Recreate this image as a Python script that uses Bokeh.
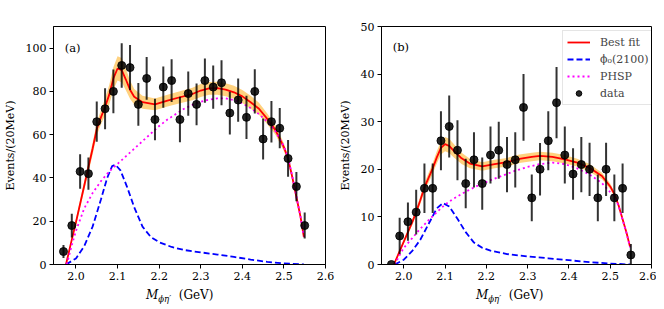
from bokeh.plotting import figure
from bokeh.layouts import row, column
from bokeh.models import (ColumnDataSource, FixedTicker, PrintfTickFormatter,
                          Label, Legend, LegendItem, Div)
from bokeh.embed import file_html
from bokeh.resources import INLINE

# ---------------- data ----------------
bin_centers = [1.97, 1.99, 2.01, 2.03, 2.05, 2.07, 2.09, 2.11, 2.13, 2.15,
               2.17, 2.19, 2.21, 2.23, 2.25, 2.27, 2.29, 2.31, 2.33, 2.35,
               2.37, 2.39, 2.41, 2.43, 2.45, 2.47, 2.49, 2.51, 2.53, 2.55]

a_counts = [6, 18, 43, 42, 66, 72, 80, 92, 91, 74,
            86, 67, 82, 85, 67, 79, 74, 85, 82, 84,
            70, 76, 68, 80, 58, 66, 63, 49, 36, 18]
a_errors = [3.0, 5.5, 8.0, 7.5, 9.3, 9.5, 10.1, 10.3, 10.4, 9.9,
            9.9, 9.6, 9.5, 9.9, 10.5, 10.2, 9.6, 10.2, 10.0, 10.4,
            9.9, 10.0, 10.0, 10.2, 9.5, 9.6, 9.3, 8.5, 6.8, 6.0]

b_counts = [0, 6, 9, 11, 16, 16, 26, 29, 24, 17,
            22, 17, 23, 24, 21, 22, 33, 14, 20, 26,
            34, 23, 19, 21, 20, 14, 20, 14, 16, 2]
b_errors = [0.0, 3.8, 4.0, 4.7, 5.2, 5.2, 6.2, 6.5, 6.3, 5.2,
            5.8, 5.5, 6.0, 6.0, 5.8, 5.8, 7.0, 4.9, 5.5, 6.2,
            7.5, 6.0, 5.4, 5.8, 5.6, 4.9, 5.6, 4.9, 5.2, 2.3]

# (a) curves
a_fit_x = [1.976, 1.99, 2.00, 2.02, 2.04, 2.05, 2.06, 2.07, 2.08, 2.09,
           2.10, 2.11, 2.12, 2.13, 2.14, 2.16, 2.19, 2.22, 2.25, 2.28,
           2.30, 2.32, 2.34, 2.36, 2.38, 2.40, 2.42, 2.44, 2.46, 2.48,
           2.50, 2.51, 2.52, 2.53, 2.54, 2.548]
a_fit_y = [0.0, 11.5, 19.5, 36.5, 53.5, 62.5, 68.0, 72.8, 78.5, 86.0,
           90.6, 89.8, 85.5, 80.8, 77.5, 75.0, 74.0, 75.7, 77.3, 78.8,
           80.4, 81.4, 81.5, 80.8, 79.6, 77.7, 75.0, 72.0, 67.3, 62.0,
           54.2, 49.0, 40.5, 31.2, 22.0, 12.7]
a_band_half = [0.3, 1.0, 1.5, 2.2, 2.8, 3.0, 3.3, 3.8, 4.5, 5.2,
               5.6, 5.6, 5.0, 4.2, 3.6, 3.0, 2.7, 2.7, 2.8, 2.9,
               3.0, 3.0, 3.0, 3.0, 3.0, 3.0, 3.0, 2.8, 2.5, 2.2,
               1.8, 1.5, 1.2, 1.0, 0.8, 0.5]

a_sig_x = [1.976, 2.00, 2.02, 2.04, 2.06, 2.075, 2.087, 2.095, 2.107, 2.123,
           2.14, 2.16, 2.18, 2.20, 2.23, 2.26, 2.30, 2.34, 2.38, 2.42,
           2.46, 2.50, 2.548]
a_sig_y = [0.0, 2.8, 8.5, 17.5, 30.0, 40.0, 45.5, 46.1, 43.5, 35.8,
           26.5, 17.5, 12.7, 10.3, 8.1, 6.7, 5.6, 4.6, 3.5, 2.3,
           1.2, 0.5, 0.0]

a_phsp_x = [1.978, 1.99, 2.00, 2.02, 2.04, 2.06, 2.08, 2.10, 2.12, 2.14,
            2.16, 2.18, 2.20, 2.22, 2.24, 2.26, 2.28, 2.30, 2.32, 2.34,
            2.36, 2.38, 2.40, 2.42, 2.44, 2.46, 2.48, 2.50, 2.51, 2.52,
            2.53, 2.54, 2.548]
a_phsp_y = [0.0, 9.0, 15.5, 26.0, 33.0, 38.5, 43.0, 46.5, 50.0, 53.5,
            57.0, 60.5, 64.0, 67.0, 69.5, 72.0, 73.8, 75.2, 76.2, 76.8,
            76.8, 76.0, 74.5, 72.3, 69.5, 66.0, 61.5, 54.5, 49.5, 41.0,
            31.5, 22.0, 13.0]

# (b) curves
b_fit_x = [1.976, 1.99, 2.00, 2.01, 2.02, 2.03, 2.04, 2.05, 2.06, 2.07,
           2.08, 2.09, 2.10, 2.11, 2.12, 2.14, 2.16, 2.19, 2.22, 2.25,
           2.28, 2.31, 2.33, 2.36, 2.39, 2.42, 2.45, 2.48, 2.50, 2.51,
           2.52, 2.53, 2.54, 2.548]
b_fit_y = [0.0, 2.8, 4.8, 6.8, 8.8, 11.0, 13.5, 16.2, 18.2, 20.2,
           22.5, 24.5, 25.3, 24.9, 24.0, 22.3, 21.2, 20.6, 21.1, 21.5,
           22.2, 22.6, 22.8, 22.6, 22.1, 21.4, 20.3, 18.6, 16.4, 14.8,
           12.5, 9.5, 6.5, 3.7]
b_band_half = [0.1, 0.3, 0.4, 0.5, 0.6, 0.7, 0.8, 0.9, 1.0, 1.1,
               1.3, 1.4, 1.5, 1.5, 1.4, 1.2, 1.0, 0.9, 0.9, 0.9,
               0.9, 0.9, 0.9, 0.9, 0.9, 0.8, 0.8, 0.7, 0.6, 0.5,
               0.4, 0.3, 0.2, 0.1]

b_sig_x = [1.978, 2.00, 2.02, 2.04, 2.06, 2.08, 2.095, 2.11, 2.13, 2.15,
           2.17, 2.19, 2.21, 2.25, 2.30, 2.35, 2.40, 2.45, 2.50, 2.548]
b_sig_y = [0.0, 1.0, 2.8, 5.2, 8.5, 11.8, 12.9, 12.2, 9.6, 6.8,
           4.6, 3.5, 2.9, 2.2, 1.7, 1.3, 0.9, 0.5, 0.2, 0.0]

b_phsp_x = [1.978, 1.99, 2.00, 2.02, 2.04, 2.06, 2.08, 2.10, 2.12, 2.15,
            2.18, 2.21, 2.24, 2.27, 2.30, 2.33, 2.36, 2.39, 2.42, 2.45,
            2.48, 2.50, 2.51, 2.52, 2.53, 2.54, 2.548]
b_phsp_y = [0.0, 2.0, 3.5, 5.5, 7.5, 9.3, 11.0, 12.6, 13.8, 15.3,
            16.6, 17.7, 18.7, 19.7, 20.5, 21.1, 21.4, 21.1, 20.2, 18.9,
            17.1, 15.2, 14.3, 12.4, 9.4, 6.4, 3.6]

x_ticks = [2.0, 2.1, 2.2, 2.3, 2.4, 2.5, 2.6]
a_y_ticks = [0, 20, 40, 60, 80, 100]
b_y_ticks = [0, 10, 20, 30, 40, 50]
x_limits = (1.946, 2.6)
a_y_limits = (0, 110)
b_y_limits = (0, 50)

legend_labels = ["Best fit", "\u03d5\u2080(2100)", "PHSP", "data"]
y_title = "Events/(20MeV)"

SERIF = "DejaVu Serif"
NAN = float("nan")


def make_panel(tag, counts, errors, fit_x, fit_y, band_half, sig_x, sig_y,
               ph_x, ph_y, y_limits, y_ticks, width, bl, br, tag_y):
    p = figure(width=width, height=286, x_range=x_limits, y_range=y_limits,
               output_backend="svg", toolbar_location=None,
               min_border_left=bl, min_border_right=br,
               min_border_top=26, min_border_bottom=22)
    p.background_fill_color = "white"
    p.border_fill_color = "white"
    p.xgrid.grid_line_color = None
    p.ygrid.grid_line_color = None
    p.outline_line_color = "black"
    p.outline_line_width = 1
    p.outline_line_alpha = 1

    p.xaxis.ticker = FixedTicker(ticks=x_ticks)
    p.xaxis.formatter = PrintfTickFormatter(format="%.1f")
    p.yaxis.ticker = FixedTicker(ticks=y_ticks)
    p.yaxis.formatter = PrintfTickFormatter(format="%d")
    for ax in (p.xaxis, p.yaxis):
        ax.major_tick_out = 4
        ax.major_tick_in = 0
        ax.minor_tick_line_color = None
        ax.axis_line_color = "black"
        ax.major_tick_line_color = "black"
        ax.major_label_text_font = SERIF
        ax.major_label_text_font_size = "11px"
        ax.major_label_text_color = "black"
        ax.major_label_standoff = 3
    p.yaxis.axis_label = y_title
    p.yaxis.axis_label_text_font = SERIF
    p.yaxis.axis_label_text_font_size = "11px"
    p.yaxis.axis_label_text_font_style = "normal"
    p.yaxis.axis_label_text_color = "black"
    p.yaxis.axis_label_standoff = 6

    lower = [f - h for f, h in zip(fit_y, band_half)]
    upper = [f + h for f, h in zip(fit_y, band_half)]
    p.varea(x=fit_x, y1=lower, y2=upper, fill_color="orange", fill_alpha=0.5)
    r_fit = p.line(fit_x, fit_y, line_color="red", line_width=1.8)
    r_sig = p.line(sig_x, sig_y, line_color="blue", line_width=1.8,
                   line_dash="6 3")
    r_ph = p.line(ph_x, ph_y, line_color="magenta", line_width=1.8,
                  line_dash="2 3")

    src = ColumnDataSource(dict(
        x=bin_centers, y=counts,
        lo=[c - e for c, e in zip(counts, errors)],
        hi=[c + e for c, e in zip(counts, errors)]))
    p.segment(x0="x", y0="lo", x1="x", y1="hi", source=src,
              line_color="black", line_alpha=0.8, line_width=2)
    p.scatter("x", "y", source=src, size=8, fill_color="black",
              line_color="black", fill_alpha=0.85, line_alpha=0.85)

    p.add_layout(Label(x=1.973, y=tag_y, text=tag, text_font=SERIF,
                       text_font_size="11.5px", text_baseline="middle",
                       text_color="black"))
    return p, r_fit, r_sig, r_ph


p1, _, _, _ = make_panel("(a)", a_counts, a_errors, a_fit_x, a_fit_y,
                         a_band_half, a_sig_x, a_sig_y, a_phsp_x, a_phsp_y,
                         a_y_limits, a_y_ticks, 335, 53, 10, 100.2)
p2, f2, s2, ph2 = make_panel("(b)", b_counts, b_errors, b_fit_x, b_fit_y,
                             b_band_half, b_sig_x, b_sig_y, b_phsp_x,
                             b_phsp_y, b_y_limits, b_y_ticks, 321, 44, 5,
                             45.6)

# legend sample renderer for "data"
leg_src = ColumnDataSource(dict(x=[NAN], y=[NAN]))
dot_r = p2.scatter("x", "y", source=leg_src, size=8, fill_color="black",
                   line_color="black", fill_alpha=0.85)

legend = Legend(items=[
    LegendItem(label=legend_labels[0], renderers=[f2]),
    LegendItem(label=legend_labels[1], renderers=[s2]),
    LegendItem(label=legend_labels[2], renderers=[ph2]),
    LegendItem(label=legend_labels[3], renderers=[dot_r]),
], location=(181, 159))
legend.label_text_font = SERIF
legend.label_text_font_size = "11px"
legend.glyph_width = 23
legend.glyph_height = 14
legend.label_height = 14
legend.label_standoff = 10
legend.spacing = 3
legend.padding = 4
legend.margin = 0
legend.border_line_color = "#cccccc"
legend.border_line_width = 1
legend.background_fill_alpha = 0.8
p2.add_layout(legend)

# x-axis titles  M_{phi eta'} (GeV)
XLABEL = ('<span style="font-family:DejaVu Serif,serif;font-size:12px;'
          'font-style:italic">M</span>'
          '<span style="font-family:DejaVu Serif,serif;font-size:8.5px;'
          'font-style:italic;position:relative;top:3px">'
          '\u03d5\u03b7\u2032</span>'
          '<span style="font-family:DejaVu Serif,serif;font-size:12px">'
          '&nbsp;&nbsp;(GeV)</span>')


def xlabel_div(pad, width):
    return Div(text=XLABEL, width=width, height=20, margin=0,
               styles={"font-family": "DejaVu Serif, serif",
                       "font-size": "12px", "line-height": "18px",
                       "white-space": "nowrap", "color": "black",
                       "padding-left": f"{pad}px"})


d1 = xlabel_div(146, 335)
d2 = xlabel_div(141, 321)

layout = column(row(p1, p2, spacing=0), row(d1, d2, spacing=0), spacing=0)
open("out.html", "w").write(file_html(layout, INLINE))
